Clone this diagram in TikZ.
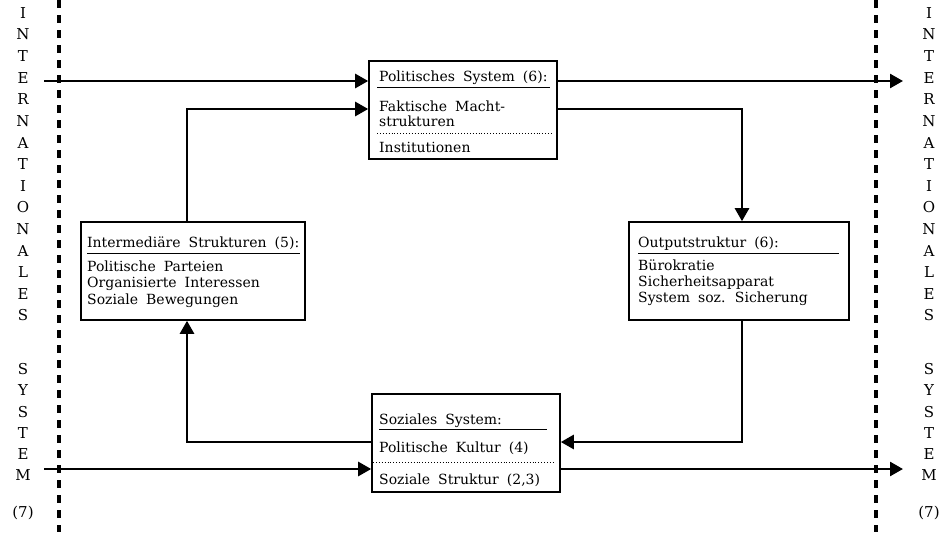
\documentclass[tikz,border=0pt]{standalone}
\usepackage{fontspec}
\setmainfont{DejaVu Serif}
\usetikzlibrary{arrows.meta}
\newcommand\boxfont{\fontsize{14}{17}\selectfont\spaceskip=8pt plus 2pt minus 1pt\relax}
\begin{document}
\begin{tikzpicture}[x=1pt,y=-1pt,
 box/.style={draw, line width=1.6pt, inner sep=0pt},
 txt/.style={anchor=base west, inner sep=0pt, font=\boxfont},
 letter/.style={inner sep=0pt, font=\fontsize{15}{18}\selectfont},
 arr/.style={line width=2.6pt, -{Triangle[length=13pt,width=14pt]}},
 rulel/.style={line width=0.9pt},
 dotl/.style={line width=0.9pt, dotted},
 border/.style={line width=3.2pt, dash pattern=on 8pt off 7pt}]
\useasboundingbox (0,0) rectangle (942,539);
\fill[white] (0,0) rectangle (942,539);

% system boundaries
\coordinate (dLt) at (59,0); \coordinate (dLb) at (59,532);
\coordinate (dRt) at (876,0); \coordinate (dRb) at (876,532);
\draw[border] (dLt) -- (dLb);
\draw[border] (dRt) -- (dRb);

% side labels
\foreach \l [count=\i from 0] in {I,N,T,E,R,N,A,T,I,O,N,A,L,E,S} {
  \node[letter] (L\i) at (23,13+21.6*\i) {\l};
  \node[letter] (R\i) at (929,13+21.6*\i) {\l};
}
\foreach \l [count=\i from 0] in {S,Y,S,T,E,M} {
  \node[letter] (LS\i) at (23,369+21.3*\i) {\l};
  \node[letter] (RS\i) at (929,369+21.3*\i) {\l};
}
\node[letter] (L7) at (23,513) {(7)};
\node[letter] (R7) at (929,513) {(7)};

% boxes
\node[box, minimum width=188pt, minimum height=98pt] (pol) at (463,110) {};
\node[box, minimum width=224pt, minimum height=98pt] (inter) at (193,271) {};
\node[box, minimum width=220pt, minimum height=98pt] (out) at (739,271) {};
\node[box, minimum width=188pt, minimum height=98pt] (soz) at (466,443) {};

% Politisches System
\node[txt] (polT) at (379,81) {Politisches System (6):};
\draw[rulel] (377,87) -- (550,87);
\node[txt] (polA) at (379,111) {Faktische Macht-};
\node[txt] (polB) at (379,126) {strukturen};
\draw[dotl] (377,133) -- (552,133);
\node[txt] (polC) at (379,152) {Institutionen};

% Intermediaere Strukturen
\node[txt] (intT) at (87,247) {Intermediäre Strukturen (5):};
\draw[rulel] (87,253) -- (300,253);
\node[txt] (intA) at (87,271) {Politische Parteien};
\node[txt] (intB) at (87,287) {Organisierte Interessen};
\node[txt] (intC) at (87,304) {Soziale Bewegungen};

% Outputstruktur
\node[txt] (outT) at (638,247) {Outputstruktur (6):};
\draw[rulel] (638,253) -- (839,253);
\node[txt] (outA) at (638,270) {Bürokratie};
\node[txt] (outB) at (638,286) {Sicherheitsapparat};
\node[txt] (outC) at (638,302) {System soz. Sicherung};

% Soziales System
\node[txt] (sozT) at (379,424) {Soziales System:};
\draw[rulel] (379,429) -- (547,429);
\node[txt] (sozA) at (379,452) {Politische Kultur (4)};
\draw[dotl] (373,462) -- (555,462);
\node[txt] (sozB) at (379,484) {Soziale Struktur (2,3)};

% connectors
\coordinate (inA) at (44,81); \coordinate (exA) at (903,81);
\coordinate (inB) at (44,469); \coordinate (exB) at (903,469);
\coordinate (yA) at (0,109); \coordinate (yB) at (0,442);
\coordinate (xI) at (187,0); \coordinate (xO) at (742,0);
\draw[arr] (inA) -- (pol.west |- inA);
\draw[arr] (pol.east |- exA) -- (exA);
\draw[arr] (inter.north -| xI) |- (pol.west |- yA);
\draw[arr] (pol.east |- yA) -| (out.north -| xO);
\draw[arr] (out.south -| xO) |- (soz.east |- yB);
\draw[arr] (soz.west |- yB) -| (inter.south -| xI);
\draw[arr] (inB) -- (soz.west |- inB);
\draw[arr] (soz.east |- exB) -- (exB);
\end{tikzpicture}
\end{document}
